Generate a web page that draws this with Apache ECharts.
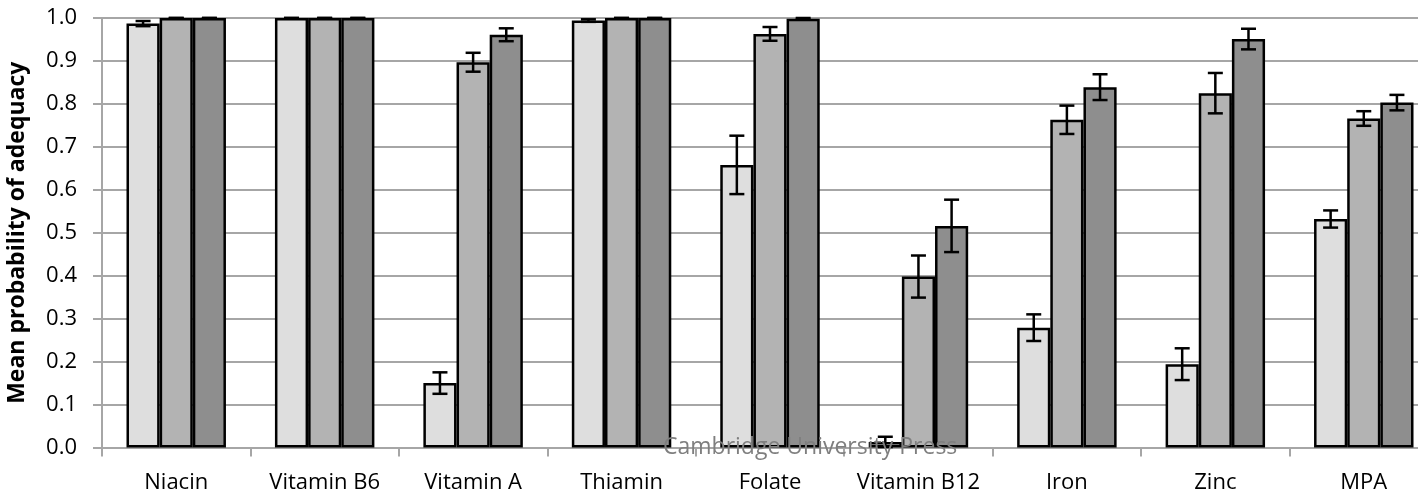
<!DOCTYPE html>
<html>
<head>
<meta charset="utf-8">
<script src="https://cdn.jsdelivr.net/npm/echarts@6/dist/echarts.min.js"></script>
<style>
  html, body { margin: 0; padding: 0; background: #fff; }
  #chart { width: 1418px; height: 495px; }
</style>
</head>
<body>
<div id="chart"></div>
<script>
// Nutrients on the category axis
const categories = ['Niacin', 'Vitamin B6', 'Vitamin A', 'Thiamin', 'Folate', 'Vitamin B12', 'Iron', 'Zinc', 'MPA'];

// Mean probability of adequacy per group, with error-bar half widths
const groupLow = [0.987, 1.0, 0.150, 0.994, 0.658, 0.013, 0.279, 0.194, 0.532];
const groupLowErr = [0.006, 0, 0.025, 0.003, 0.068, 0.012, 0.031, 0.037, 0.020];
const groupMid = [1.0, 1.0, 0.897, 1.0, 0.963, 0.398, 0.763, 0.825, 0.766];
const groupMidErr = [0, 0, 0.022, 0, 0.016, 0.049, 0.033, 0.047, 0.017];
const groupHigh = [1.0, 1.0, 0.961, 1.0, 0.998, 0.516, 0.839, 0.951, 0.803];
const groupHighErr = [0, 0, 0.015, 0, 0.002, 0.061, 0.030, 0.024, 0.018];

const barColors = ['#dedede', '#b3b3b3', '#8e8e8e'];
const groups = [
  { values: groupLow, errs: groupLowErr },
  { values: groupMid, errs: groupMidErr },
  { values: groupHigh, errs: groupHighErr }
];
const CATEGORY_GAP = 0.33;
const FONT = '"Open Sans", sans-serif';
const GRID_GREY = '#a6a6a6';

const chart = echarts.init(document.getElementById('chart'), null, { renderer: 'canvas' });

function errorBarSeries(gi) {
  const g = groups[gi];
  return {
    type: 'custom',
    z: 10,
    silent: true,
    data: g.values.map((v, i) => [i, v, g.errs[i]]),
    renderItem: function (params, api) {
      const idx = api.value(0);
      const v = api.value(1);
      const e = api.value(2);
      const bandW = api.size([1, 0])[0];
      const barW = bandW * (1 - CATEGORY_GAP) / groups.length;
      const center = api.coord([idx, v]);
      const x = center[0] + (gi - (groups.length - 1) / 2) * barW;
      const top = api.coord([idx, v + e])[1];
      const bot = api.coord([idx, v - e])[1];
      const cap = 7.5;
      const style = { stroke: '#000', lineWidth: 2.5 };
      return {
        type: 'group',
        children: [
          { type: 'line', shape: { x1: x, y1: top, x2: x, y2: bot }, style: style },
          { type: 'line', shape: { x1: x - cap, y1: top, x2: x + cap, y2: top }, style: style },
          { type: 'line', shape: { x1: x - cap, y1: bot, x2: x + cap, y2: bot }, style: style }
        ]
      };
    }
  };
}

const barSeries = groups.map((g, gi) => ({
  type: 'bar',
  data: g.values,
  barGap: '0%',
  barCategoryGap: (CATEGORY_GAP * 100) + '%',
  itemStyle: { color: barColors[gi], borderColor: '#000', borderWidth: 2.5 },
  z: 3
}));

chart.setOption({
  animation: false,
  backgroundColor: '#fff',
  // the plot runs on past the right edge of the canvas
  grid: { left: 102, width: 1336, top: 18, bottom: 47.5, containLabel: false, outerBoundsMode: 'none' },
  xAxis: {
    type: 'category',
    data: categories,
    axisLine: { show: true, lineStyle: { color: GRID_GREY, width: 2 } },
    axisTick: { show: true, alignWithLabel: false, interval: 0, length: 9, lineStyle: { color: GRID_GREY, width: 2 } },
    axisLabel: { color: '#000', fontFamily: FONT, fontSize: 22, margin: 24, interval: 0 },
    splitLine: { show: false }
  },
  yAxis: {
    type: 'value',
    min: 0,
    max: 1,
    interval: 0.1,
    name: 'Mean probability of adequacy',
    nameLocation: 'middle',
    nameRotate: 90,
    nameGap: 73,
    nameTextStyle: { color: '#000', fontFamily: FONT, fontSize: 23, fontWeight: 'bold' },
    axisLine: { show: true, lineStyle: { color: GRID_GREY, width: 2 } },
    axisTick: { show: true, length: 9, lineStyle: { color: GRID_GREY, width: 2 } },
    axisLabel: {
      color: '#000', fontFamily: FONT, fontSize: 22, margin: 25,
      formatter: v => v.toFixed(1)
    },
    splitLine: { show: true, lineStyle: { color: GRID_GREY, width: 2 } }
  },
  graphic: [{
    type: 'text',
    z: 100,
    left: 663,
    top: 436,
    style: {
      text: 'Cambridge University Press',
      fill: '#7f7f7f',
      font: '23px ' + FONT
    }
  }],
  series: barSeries.concat(groups.map((g, gi) => errorBarSeries(gi)))
});
</script>
</body>
</html>
